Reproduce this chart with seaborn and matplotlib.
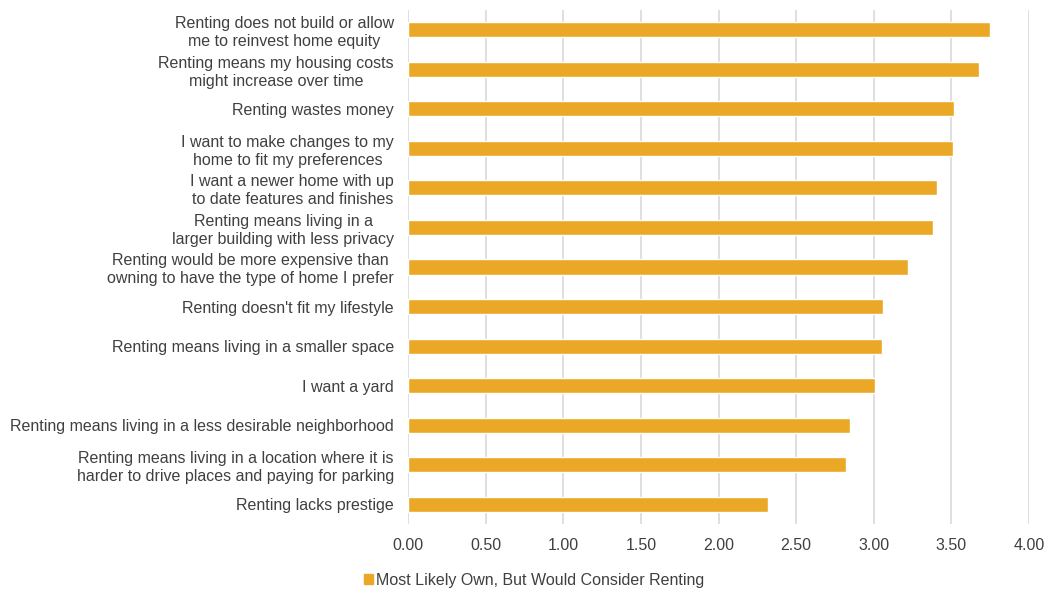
import matplotlib
matplotlib.use("Agg")
import matplotlib.pyplot as plt
import seaborn as sns
import pandas as pd
from matplotlib.patches import Patch

categories = [
    "Renting does not build or allow\nme to reinvest home equity",
    "Renting means my housing costs\nmight increase over time",
    "Renting wastes money",
    "I want to make changes to my\nhome to fit my preferences",
    "I want a newer home with up\nto date features and finishes",
    "Renting means living in a\nlarger building with less privacy",
    "Renting would be more expensive than\nowning to have the type of home I prefer",
    "Renting doesn't fit my lifestyle",
    "Renting means living in a smaller space",
    "I want a yard",
    "Renting means living in a less desirable neighborhood",
    "Renting means living in a location where it is\nharder to drive places and paying for parking",
    "Renting lacks prestige",
]
values = [3.75, 3.68, 3.52, 3.51, 3.41, 3.38, 3.22, 3.06, 3.05, 3.01, 2.85, 2.82, 2.32]
series_name = "Most Likely Own, But Would Consider Renting"
xticks = [0.0, 0.5, 1.0, 1.5, 2.0, 2.5, 3.0, 3.5, 4.0]

color = "#EBA826"
txt = "#404040"

sns.set_style("white")
plt.rcParams['font.family'] = ['Liberation Sans', 'DejaVu Sans']

df = pd.DataFrame({"cat": categories, "val": values})

fig = plt.figure(figsize=(10.45, 5.9), dpi=100)
ax = fig.add_axes([408/1045, 1 - 524/590, (1029-408)/1045, (524-10)/590])

sns.barplot(data=df, x="val", y="cat", orient="h", color=color, width=0.38,
            saturation=1, ax=ax, order=categories)

ax.set_xlim(0, 4.0)
ax.set_ylim(len(categories) - 0.5, -0.5)
ax.set_xticks(xticks)
ax.set_xticklabels([f"{t:.2f}" for t in xticks], fontsize=11.5, color=txt)
ax.set_xlabel("")
ax.set_ylabel("")
ax.xaxis.grid(True, color="#D9D9D9", linewidth=1.2)
ax.set_axisbelow(True)
for s in ax.spines.values():
    s.set_visible(False)
ax.tick_params(axis="both", length=0)
ax.tick_params(axis="x", pad=10)
ax.tick_params(axis="y", pad=10)
for lab in ax.get_yticklabels():
    lab.set_fontsize(11.5)
    lab.set_color(txt)
    lab.set_multialignment("center")
    lab.set_linespacing(1.25)

handles = [Patch(facecolor=color, edgecolor=color, label=series_name)]
fig.legend(handles=handles, loc="center", bbox_to_anchor=(534/1045, 1 - 580/590),
           frameon=False, fontsize=11.5, handlelength=0.6, handleheight=0.6,
           handletextpad=0.15, labelcolor=txt)

fig.savefig("out.png", dpi=100)
